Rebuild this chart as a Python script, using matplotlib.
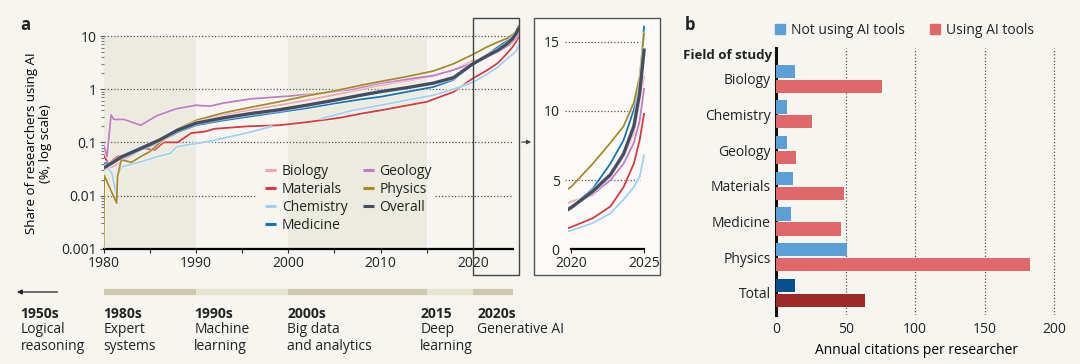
import numpy as np
import matplotlib
matplotlib.use("Agg")
import matplotlib.pyplot as plt
import matplotlib.patheffects as pe
from matplotlib.patches import Rectangle, Patch, FancyArrowPatch

plt.rcParams['font.family'] = ['Open Sans', 'DejaVu Sans']
plt.rcParams['font.size'] = 10
plt.rcParams['text.color'] = '#222222'
plt.rcParams['xtick.color'] = '#222222'
plt.rcParams['ytick.color'] = '#222222'

nan = np.nan

# ---- panel a: share of researchers using AI (%) ----
overall_years = [1980, 1981, 1982, 1984, 1986, 1988, 1990, 1993, 1996, 1999, 2002, 2005,
                 2008, 2010, 2013, 2015.7, 2017.9, 2020, 2021.5, 2022.7, 2023.6, 2024.3, 2024.7, 2025]
overall = [0.033, 0.042, 0.054, 0.077, 0.11, 0.17, 0.23, 0.29, 0.35, 0.41, 0.5, 0.62,
           0.78, 0.9, 1.08, 1.3, 1.65, 3.0, 4.2, 5.4, 6.9, 8.9, 11.3, 14.4]
medicine = [0.04, 0.042, 0.05, 0.072, 0.1, 0.155, 0.21, 0.26, 0.31, 0.37, 0.44, 0.54,
            0.65, 0.72, 0.9, 1.1, 1.5, 3.0, 4.4, 6.2, 7.9, 10.1, 12.2, 16.1]
biology = [0.03, 0.035, 0.045, 0.07, 0.1, 0.17, 0.25, 0.33, 0.41, 0.5, 0.62, 0.78,
           1.0, 1.19, 1.45, 1.75, 2.3, 3.45, 3.9, 5.25, 6.7, 8.4, 10.6, 12.5]

physics_years = [1980, 1980.05, 1981.4, 1981.5, 1981.9, 1983, 1984, 1985, 1986, 1988, 1990, 1993,
                 1996, 1999, 2002, 2005, 2008, 2010, 2013, 2015.7, 2017.9, 2020, 2021.5, 2022.7,
                 2023.6, 2024.3, 2024.7, 2025]
physics = [0.001, 0.024, 0.0072, 0.023, 0.047, 0.042, 0.054, 0.067, 0.096, 0.18, 0.26, 0.36,
           0.46, 0.58, 0.75, 0.93, 1.2, 1.4, 1.75, 2.2, 3.0, 4.5, 6.2, 7.7,
           8.9, 10.6, 12.5, 15.6]

geology_years = [1980, 1980.36, 1980.8, 1981.1, 1982.2, 1984, 1984.9, 1985.8, 1987.9, 1990, 1991.5,
                 1993, 1996, 2000, 2004, 2007, 2010, 2013, 2015.7, 2017.9, 2020, 2021.5, 2022.7,
                 2023.6, 2024.3, 2024.7, 2025]
geology = [0.089, 0.054, 0.33, 0.27, 0.27, 0.21, 0.26, 0.32, 0.43, 0.5, 0.48,
           0.55, 0.66, 0.74, 0.86, 1.0, 1.3, 1.55, 1.8, 2.3, 3.1, 4.0, 5.0,
           6.2, 7.7, 9.3, 11.6]

materials_years = [1980, 1980.5, 1981.5, 1983, 1984.4, 1985.5, 1986.5, 1988, 1989.5, 1991, 1992,
                   1995.5, 1999, 2002, 2005.6, 2008, 2010, 2013, 2015, 2017.9, 2020, 2021.5,
                   2022.7, 2023.6, 2024.3, 2024.7, 2025]
materials = [0.058, 0.04, 0.054, 0.062, 0.077, 0.072, 0.1, 0.1, 0.15, 0.16, 0.18,
             0.2, 0.21, 0.24, 0.29, 0.35, 0.40, 0.5, 0.58, 0.89, 1.6, 2.25,
             3.1, 4.5, 6.2, 7.9, 9.8]

chemistry_years = [1980, 1980.9, 1981.3, 1981.5, 1982, 1984, 1985.8, 1987.2, 1987.9, 1990, 1992,
                   1995.5, 1998.3, 2000, 2003.5, 2007, 2010, 2013, 2015.7, 2018.6, 2020, 2021.5,
                   2022.7, 2023.6, 2024.3, 2024.7, 2025]
chemistry = [0.04, 0.026, 0.011, 0.023, 0.035, 0.043, 0.054, 0.062, 0.083, 0.095, 0.11,
             0.15, 0.2, nan, 0.28, 0.4, 0.5, 0.63, 0.77, 1.1, 1.35, 1.9,
             2.6, 3.6, 4.5, 5.25, 6.8]

series = [
    ('Biology', overall_years, biology, '#f2a7aa', 1.3),
    ('Materials', materials_years, materials, '#d8383e', 1.3),
    ('Chemistry', chemistry_years, chemistry, '#9fd0f4', 1.3),
    ('Medicine', overall_years, medicine, '#1574b6', 1.3),
    ('Geology', geology_years, geology, '#c07dc2', 1.3),
    ('Physics', physics_years, physics, '#a68a2a', 1.3),
    ('Overall', overall_years, overall, '#454e60', 2.4),
]

shade_start = [1980, 2000]
shade_end = [1990, 2015]

# timeline under panel a
era_names = ['1950s', '1980s', '1990s', '2000s', '2015', '2020s']
era_desc = ['Logical\nreasoning', 'Expert\nsystems', 'Machine\nlearning',
            'Big data\nand analytics', 'Deep\nlearning', 'Generative AI']
era_text_x = [1971.0, 1980.0, 1989.8, 1999.9, 2014.3, 2020.5]
bar_start = [1980, 1990, 2000, 2015, 2020]
bar_end = [1990, 2000, 2015, 2020, 2024.4]
bar_colors = ['#cbc8ad', '#e6e3cf', '#cbc8ad', '#e6e3cf', '#cbc8ad']

# ---- panel b: annual citations per researcher ----
fields = ['Biology', 'Chemistry', 'Geology', 'Materials', 'Medicine', 'Physics', 'Total']
not_using = [13.4, 7.9, 7.9, 12.2, 10.3, 50.7, 13.4]
using = [76.1, 25.4, 13.9, 49.0, 46.6, 182.5, 64.1]

BG = '#f6f5ef'
SHADE = '#ecebdf'
W, H = 1080, 364


def fx(px):
    return px / W


def fy(py):
    return 1 - py / H


fig = plt.figure(figsize=(10.8, 3.64), dpi=100, facecolor=BG)

# main axes
ax = fig.add_axes([fx(103.7), fy(248.7), fx(415.3), (248.7 - 25.2) / H])
ax.set_facecolor('none')
ax.set_yscale('log')
ax.set_xlim(1980, 2025)
ax.set_ylim(0.001, 16)

for s, e in zip(shade_start, shade_end):
    ax.fill_betweenx([0.001, 10], s, e, color=SHADE, lw=0, zorder=0)

grid_kw = dict(colors='#555555', linestyles=(0, (1, 1.6)), lw=0.9, zorder=1)
ax.hlines([10, 1, 0.1], 1980, 2024.4, **grid_kw)
ax.hlines(0.01, 1980, 1996.5, **grid_kw)
ax.hlines(0.01, 2015.9, 2024.4, **grid_kw)

for name, yrs, vals, col, lw in series:
    eff = [pe.Stroke(linewidth=lw + 1.3, foreground='white', alpha=0.5), pe.Normal()]
    ax.plot(yrs, vals, color=col, lw=lw, label=name, zorder=3, path_effects=eff,
            solid_capstyle='butt')

for side in ['top', 'right', 'left']:
    ax.spines[side].set_visible(False)
ax.spines['bottom'].set_linewidth(1.6)
ax.spines['bottom'].set_bounds(1980, 2024.4)
ax.set_xticks([1980, 1990, 2000, 2010, 2020])
ax.set_xticks(np.arange(1985, 2021, 5), minor=True)
ax.set_yticks([0.001, 0.01, 0.1, 1, 10])
ax.set_yticklabels(['0.001', '0.01', '0.1', '1', '10'])
ax.tick_params(axis='x', which='both', length=3, width=0.8, pad=2, labelsize=10)
ax.tick_params(axis='y', which='major', length=3, width=0.8, pad=2, labelsize=10, color='#555555')
ax.tick_params(axis='y', which='minor', length=2.5, width=0.8, color='#777777')
ax.set_ylabel('Share of researchers using AI\n(%, log scale)', fontsize=9.5, linespacing=1.1)
ax.yaxis.set_label_coords(-0.125, 0.47)

leg = ax.legend(ncol=2, loc='upper left', bbox_to_anchor=(0.389, 0.38), frameon=False,
                fontsize=10, handlelength=0.8, handletextpad=0.4, labelspacing=0.22,
                columnspacing=1.1, borderpad=0, borderaxespad=0)
for h in leg.get_lines():
    h.set_linewidth(2.2)
    h.set_path_effects([])

# timeline below panel a
tr = ax.get_xaxis_transform()


def axy(py):
    return (248.7 - py) / 223.5


for s, e, c in zip(bar_start, bar_end, bar_colors):
    ax.plot([s, e], [axy(292), axy(292)], color=c, lw=4.5, solid_capstyle='butt',
            transform=tr, clip_on=False)
ax.annotate('', xy=(1970.6, axy(292)), xytext=(1975.0, axy(292)), xycoords=tr,
            textcoords=tr, arrowprops=dict(arrowstyle='-|>', color='#222222', lw=0.9,
                                           mutation_scale=7, shrinkA=0, shrinkB=0))
for x, nm, d in zip(era_text_x, era_names, era_desc):
    ax.text(x, axy(307), nm, transform=tr, ha='left', va='top', fontsize=10,
            fontweight='bold', clip_on=False)
    ax.text(x, axy(322), d, transform=tr, ha='left', va='top', fontsize=10,
            linespacing=1.2, clip_on=False)

# zoom box and inset frame
fig.patches.append(Rectangle((fx(534), fy(275)), fx(126), 257 / H, transform=fig.transFigure,
                             facecolor='#fbfaf6', edgecolor='#555555', lw=1.0, zorder=-5))
fig.patches.append(Rectangle((fx(473), fy(275)), fx(46), 257 / H, transform=fig.transFigure,
                             facecolor='none', edgecolor='#444444', lw=1.0, zorder=5))
fig.patches.append(FancyArrowPatch((fx(519), fy(142)), (fx(534), fy(142)),
                                   transform=fig.transFigure, arrowstyle='-|>',
                                   mutation_scale=6, color='#444444', lw=0.9))

# inset axes (linear scale)
ins = fig.add_axes([fx(568), fy(249.3), fx(79), (249.3 - 21.1) / H])
ins.set_facecolor('none')
ins.set_zorder(2)
ins.set_xlim(2019.8, 2025.2)
ins.set_ylim(0, 16.5)
ins.hlines([5, 10, 15], 2019.6, 2024.7, colors='#555555', linestyles=(0, (1, 1.6)), lw=0.9,
           zorder=1, clip_on=False)
for name, yrs, vals, col, lw in series:
    eff = [pe.Stroke(linewidth=lw + 1.3, foreground='white', alpha=0.5), pe.Normal()]
    ins.plot(yrs, vals, color=col, lw=lw, zorder=3, path_effects=eff)
for side in ['top', 'right', 'left']:
    ins.spines[side].set_visible(False)
ins.spines['bottom'].set_linewidth(1.6)
ins.spines['bottom'].set_bounds(2020, 2025)
ins.set_xticks([2020, 2025])
ins.set_yticks([0, 5, 10, 15])
ins.tick_params(axis='x', length=3, width=0.8, pad=2, labelsize=10)
ins.tick_params(axis='y', length=0, pad=6, labelsize=10)

# panel b
bx = fig.add_axes([fx(776.3), fy(315), fx(280.4), (315 - 48) / H])
bx.set_facecolor('none')
y = np.arange(len(fields))
blue = ['#5a9fd6'] * (len(fields) - 1) + ['#07508f']
red = ['#e0676a'] * (len(fields) - 1) + ['#9e2a27']
bx.barh(y - 0.21, not_using, height=0.37, color=blue, zorder=3)
bx.barh(y + 0.21, using, height=0.37, color=red, zorder=3)
bx.set_xlim(0, 202)
bx.set_ylim(6.62, -0.86)
bx.set_yticks(y)
bx.set_yticklabels(fields, fontsize=10)
bx.set_xticks([0, 50, 100, 150, 200])
bx.tick_params(axis='y', length=0, pad=4)
bx.tick_params(axis='x', length=0, pad=5, labelsize=10)
bx.grid(axis='x', color='#555555', linestyle=(0, (1, 1.6)), lw=0.9, zorder=1)
bx.set_axisbelow(True)
for side in ['top', 'right', 'bottom']:
    bx.spines[side].set_visible(False)
bx.spines['left'].set_linewidth(2.2)
bx.spines['left'].set_color('#111111')
bx.set_xlabel('Annual citations per researcher', fontsize=10, labelpad=4)
fig.text(fx(772), fy(55), 'Field of study', ha='right', va='center', fontsize=9.5,
         fontweight='bold')
handles = [Patch(color='#5a9fd6'), Patch(color='#e0676a')]
fig.legend(handles, ['Not using AI tools', 'Using AI tools'], ncol=2, loc='center left',
           bbox_to_anchor=(fx(775), fy(30)), frameon=False, fontsize=10, handlelength=0.75,
           handleheight=0.75, handletextpad=0.4, columnspacing=1.8, borderpad=0,
           borderaxespad=0)

fig.text(fx(20), fy(25), 'a', fontsize=12, fontweight='bold', va='center', ha='left')
fig.text(fx(685), fy(25), 'b', fontsize=12, fontweight='bold', va='center', ha='left')

fig.savefig('out.png', dpi=100, facecolor=BG)
